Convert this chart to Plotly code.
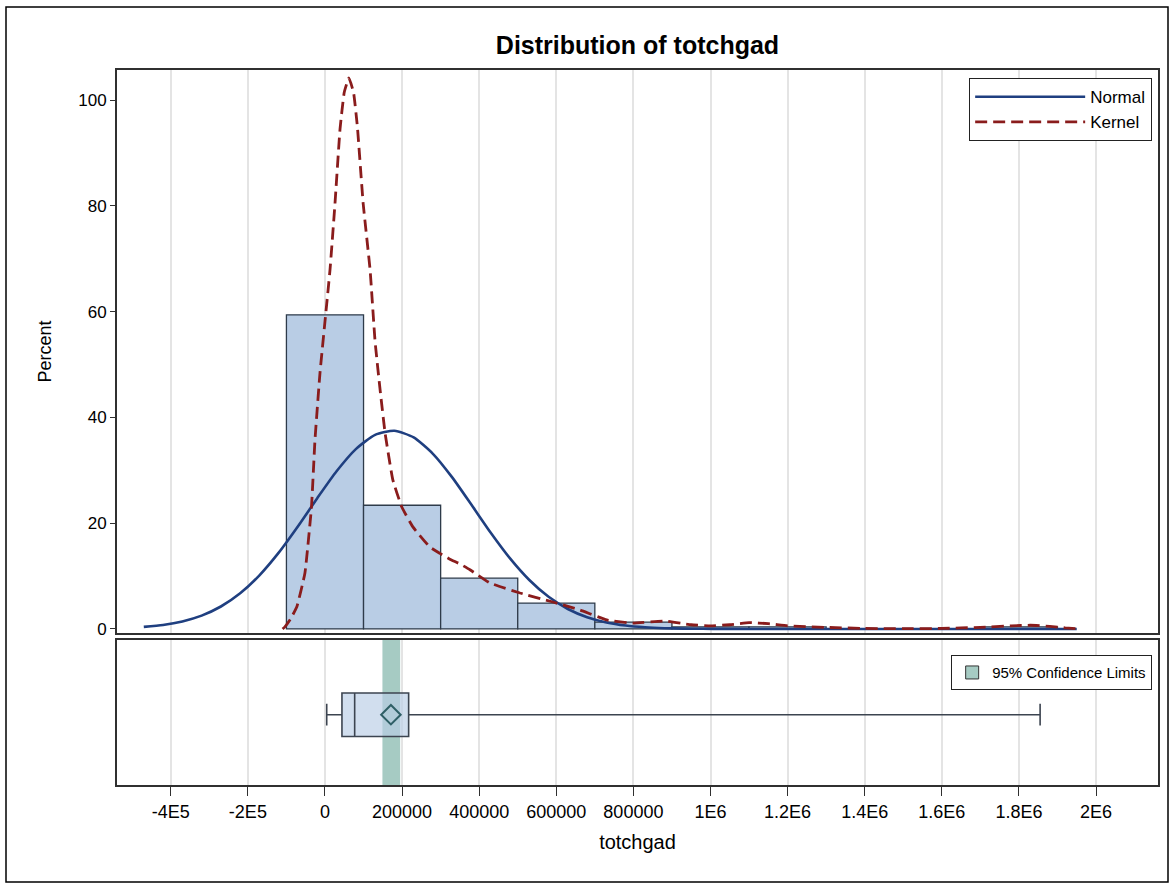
import plotly.graph_objects as go

# ---------------- data ----------------
bin_centers = [0, 200000, 400000, 600000, 800000, 1000000, 1200000, 1800000]
bin_percent = [59.4, 23.4, 9.6, 4.9, 1.3, 0.4, 0.4, 0.4]
bin_width = 200000

normal_x = [-470000, -420000, -370000, -320000, -270000, -220000, -170000, -120000,
            -70000, -20000, 30000, 80000, 130000, 180000, 230000, 280000, 330000,
            380000, 430000, 480000, 530000, 580000, 630000, 680000, 730000, 780000,
            830000, 880000, 930000, 980000, 1030000, 1200000, 1500000, 1950000]
normal_y = [0.39, 0.76, 1.43, 2.53, 4.25, 6.75, 10.15, 14.43, 19.43, 24.74, 29.82,
            34.01, 36.71, 37.49, 36.22, 33.12, 28.66, 23.47, 18.19, 13.34, 9.26,
            6.08, 3.78, 2.22, 1.24, 0.65, 0.32, 0.15, 0.07, 0.03, 0.01, 0.0, 0.0, 0.0]

kernel_x = [-110000, -104000, -90000, -73000, -52000, -35000, -26000, -13000,
            13000, 26000, 39000, 50000, 62000, 74000, 84000, 99000, 117000, 130000,
            143000, 156000, 176000, 199000, 228000, 272000, 298000, 324000, 350000,
            376000, 428000, 506000, 591000, 661000, 731000, 799000, 880000, 950000,
            1000000, 1050000, 1100000, 1150000, 1200000, 1300000, 1400000, 1500000,
            1600000, 1700000, 1780000, 1830000, 1880000, 1920000, 1950000]
kernel_y = [0.0, 0.4, 1.8, 4.2, 10.6, 23.1, 35.7, 48.4, 67.9, 80.5, 94.5, 101.5,
            104.2, 101.5, 95.0, 80.5, 67.9, 54.3, 45.2, 37.0, 28.2, 23.1, 19.3, 15.5,
            14.3, 13.2, 12.3, 11.2, 8.7, 6.8, 5.1, 3.6, 1.7, 1.1, 1.5, 0.8, 0.6, 0.8,
            1.2, 1.0, 0.6, 0.3, 0.1, 0.05, 0.1, 0.3, 0.6, 0.7, 0.5, 0.2, 0.05]

whisker_low = 4500
q1 = 44000
median = 77000
q3 = 217000
whisker_high = 1855000
mean_value = 171000
ci_low = 149000
ci_high = 195000

tick_vals = [-400000, -200000, 0, 200000, 400000, 600000, 800000, 1000000,
             1200000, 1400000, 1600000, 1800000, 2000000]
tick_text = ["-4E5", "-2E5", "0", "200000", "400000", "600000", "800000", "1E6",
             "1.2E6", "1.4E6", "1.6E6", "1.8E6", "2E6"]
y_ticks = [0, 20, 40, 60, 80, 100]

# ---------------- styling ----------------
FONT = "Liberation Sans, Arial, sans-serif"
BAR_FILL = "#b9cde5"
BAR_LINE = "#2e3b4a"
NORMAL_C = "#1f3f80"
KERNEL_C = "#8a1c1c"
GRID_C = "#e4e4e4"
FRAME_C = "#303030"
CI_C = "#a6cbc3"

fig = go.Figure()

fig.add_trace(go.Bar(
    x=bin_centers, y=bin_percent, width=bin_width,
    marker=dict(color=BAR_FILL, line=dict(color=BAR_LINE, width=1.3)),
    showlegend=False, xaxis="x", yaxis="y", hoverinfo="skip"))

fig.add_trace(go.Scatter(
    x=normal_x, y=normal_y, mode="lines", name="Normal",
    line=dict(color=NORMAL_C, width=2.6, shape="spline", smoothing=0.6),
    xaxis="x", yaxis="y", legend="legend"))

fig.add_trace(go.Scatter(
    x=kernel_x, y=kernel_y, mode="lines", name="Kernel",
    line=dict(color=KERNEL_C, width=2.8, dash="12px,6px", shape="spline", smoothing=0.35),
    xaxis="x", yaxis="y", legend="legend"))

# confidence band (bottom panel)
fig.add_trace(go.Bar(
    y=[0], x=[ci_high - ci_low], base=[ci_low], orientation="h", width=[2.2],
    marker=dict(color=CI_C, line=dict(width=0)),
    showlegend=False, xaxis="x2", yaxis="y2", hoverinfo="skip"))
fig.add_trace(go.Scatter(
    x=[None], y=[None], mode="markers", name="95% Confidence Limits",
    marker=dict(symbol="square", size=13, color=CI_C, line=dict(color="#333", width=1)),
    xaxis="x2", yaxis="y2", legend="legend2"))

fig.add_trace(go.Box(
    y=[0], q1=[q1], median=[median], q3=[q3], lowerfence=[whisker_low],
    upperfence=[whisker_high], orientation="h", width=0.6, whiskerwidth=0.5,
    fillcolor="rgba(185,205,229,0.65)", line=dict(color="#3c4450", width=1.6),
    showlegend=False, xaxis="x2", yaxis="y2", hoverinfo="skip"))

fig.add_trace(go.Scatter(
    x=[mean_value], y=[0], mode="markers",
    marker=dict(symbol="diamond-open", size=15, color="#2f5f66", line=dict(width=2)),
    showlegend=False, xaxis="x2", yaxis="y2", hoverinfo="skip"))

x_range = [-539500, 2160800]

fig.update_layout(
    width=1172, height=884,
    margin=dict(l=117, r=14, t=70, b=99),
    paper_bgcolor="white", plot_bgcolor="white",
    font=dict(family=FONT, size=17, color="#000"),
    barmode="overlay",
    title=dict(text="<b>Distribution of totchgad</b>", x=(117 + 1158) / 2 / 1172,
               xanchor="center", y=1 - 45 / 884, yanchor="middle",
               font=dict(family=FONT, size=25, color="#000")),
    xaxis=dict(domain=[0, 1], range=x_range, anchor="y", matches="x2",
               tickvals=tick_vals, showticklabels=False, ticks="",
               showgrid=True, gridcolor=GRID_C, gridwidth=1.5, zeroline=False,
               showline=True, mirror=True, linecolor=FRAME_C, linewidth=1.8),
    yaxis=dict(domain=[0.2126, 1], range=[-0.76, 105.7], anchor="x",
               tickvals=y_ticks, ticks="outside", ticklen=5, tickcolor=FRAME_C,
               showgrid=False, zeroline=False,
               showline=True, mirror=True, linecolor=FRAME_C, linewidth=1.8,
               title=dict(text="Percent", standoff=22, font=dict(size=18)),
               tickfont=dict(size=17)),
    xaxis2=dict(domain=[0, 1], range=x_range, anchor="y2",
                tickvals=tick_vals, ticktext=tick_text, ticks="outside", ticklen=9,
                tickcolor=FRAME_C, tickfont=dict(size=18),
                showgrid=True, gridcolor=GRID_C, gridwidth=1.5, zeroline=False,
                showline=True, mirror=True, linecolor=FRAME_C, linewidth=1.8,
                title=dict(text="totchgad", standoff=14, font=dict(size=20))),
    yaxis2=dict(domain=[0, 0.2028], range=[-0.97, 1.03], anchor="x2",
                showticklabels=False, ticks="", showgrid=False, zeroline=False,
                showline=True, mirror=True, linecolor=FRAME_C, linewidth=1.8),
    legend=dict(x=0.9942, y=0.9888, xanchor="right", yanchor="top",
                bgcolor="white", bordercolor="#222", borderwidth=1.2,
                font=dict(size=17), itemwidth=110, tracegroupgap=2),
    legend2=dict(x=0.9942, y=0.1818, xanchor="right", yanchor="top",
                 bgcolor="white", bordercolor="#222", borderwidth=1.2,
                 font=dict(size=15)),
    shapes=[dict(type="rect", xref="paper", yref="paper",
                 x0=(6 - 117) / 1041, x1=(1168 - 117) / 1041,
                 y0=(785 - 882) / 715, y1=(785 - 7) / 715,
                 line=dict(color="#000", width=1.5), fillcolor="rgba(0,0,0,0)",
                 layer="below")],
)

fig.write_html("out.html")
